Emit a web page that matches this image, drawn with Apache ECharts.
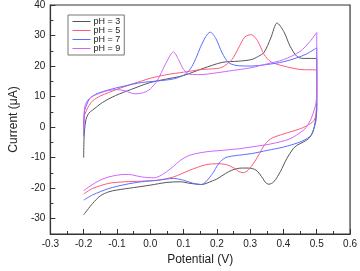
<!DOCTYPE html>
<html><head><meta charset="utf-8">
<script src="https://cdn.jsdelivr.net/npm/echarts@6/dist/echarts.min.js"></script>
<style>html,body{margin:0;padding:0;background:#fff}#c{width:360px;height:271px}</style>
</head><body><div id="c"></div>
<script>
const seriesNames = ['pH = 3', 'pH = 5', 'pH = 7', 'pH = 9'];
const xTicks = [-0.3, -0.2, -0.1, 0.0, 0.1, 0.2, 0.3, 0.4, 0.5, 0.6];
const yTicks = [-30, -20, -10, 0, 10, 20, 30, 40];
const yMinorTicks = [-35, -25, -15, -5, 5, 15, 25, 35];

// potential (V), current (uA): forward scan then reverse scan
const ph3 = [[-0.2,-10],[-0.199,-4],[-0.197,-0.6],[-0.193,2.5],[-0.185,4.5],[-0.173,5.6],[-0.143,8.1],[-0.105,10.3],[-0.056,12.4],[0.0,14.6],[0.07,16.2],[0.1,16.9],[0.158,19.2],[0.216,21.2],[0.265,21.6],[0.303,22.1],[0.325,23.2],[0.342,24.5],[0.362,29.2],[0.381,34.1],[0.401,31.3],[0.42,26.5],[0.44,23.2],[0.459,22.5],[0.5,22.5],
  [0.5,6],[0.497,2.7],[0.488,-1.7],[0.475,-3.8],[0.459,-4.9],[0.44,-6],[0.429,-7.1],[0.41,-10.3],[0.391,-14.5],[0.371,-17.9],[0.356,-18.7],[0.345,-18],[0.338,-16.8],[0.318,-14.1],[0.294,-13.4],[0.274,-13.4],[0.245,-14.1],[0.226,-15.2],[0.2,-17],[0.187,-17.6],[0.153,-18.8],[0.119,-18.4],[0.09,-17.9],[0.05,-18.1],[0.0,-19],[-0.05,-19.8],[-0.1,-20.6],[-0.125,-21.2],[-0.15,-22.5],[-0.173,-25],[-0.2,-28.7]];
const ph5 = [[-0.2,0],[-0.199,3],[-0.195,4.6],[-0.187,6.5],[-0.173,8.6],[-0.15,10.2],[-0.125,11.3],[-0.1,12.4],[-0.076,13.3],[-0.05,14.3],[-0.026,15.1],[0.0,16],[0.05,17.2],[0.1,18],[0.15,18.8],[0.2,19.2],[0.216,19.6],[0.245,22.1],[0.265,25.9],[0.284,29.5],[0.303,30.3],[0.323,28.1],[0.342,23.8],[0.362,21.4],[0.401,20],[0.449,18.9],[0.5,18.6],
  [0.5,9],[0.498,5],[0.492,2.2],[0.469,0.4],[0.449,-0.6],[0.401,-2.2],[0.362,-3.8],[0.342,-6],[0.328,-8.7],[0.313,-11.4],[0.294,-14.1],[0.279,-14.9],[0.265,-14.5],[0.255,-13.6],[0.226,-12.2],[0.2,-12],[0.167,-12.3],[0.119,-14.1],[0.07,-16.3],[0.022,-17.4],[-0.027,-17.7],[-0.076,-17.9],[-0.124,-18.4],[-0.173,-20.1],[-0.2,-21.9]];
const ph7 = [[-0.2,-3],[-0.199,2],[-0.197,5.5],[-0.19,7.5],[-0.183,9.2],[-0.163,10.8],[-0.125,12.2],[-0.076,13.5],[-0.026,14.6],[0.02,15.1],[0.07,15.8],[0.1,17],[0.12,19],[0.137,22.5],[0.15,26],[0.167,29.7],[0.18,31.1],[0.197,29],[0.216,24.3],[0.236,21.1],[0.265,20.1],[0.3,20],[0.35,20.5],[0.4,21.4],[0.44,22.7],[0.47,24],[0.5,26],
  [0.5,6],[0.497,1.7],[0.488,-1.5],[0.478,-3.2],[0.449,-4.9],[0.401,-6.5],[0.352,-7.6],[0.303,-8.7],[0.265,-9.2],[0.226,-10],[0.206,-11.9],[0.187,-15.2],[0.167,-17.9],[0.153,-18.8],[0.129,-18.4],[0.1,-17.4],[0.07,-16.8],[0.022,-17.4],[-0.027,-17.9],[-0.076,-18.8],[-0.124,-20.1],[-0.173,-22.2],[-0.2,-23.9]];
const ph9 = [[-0.2,-2],[-0.199,3],[-0.197,6.5],[-0.19,8.5],[-0.175,10],[-0.15,11.2],[-0.125,12],[-0.1,12.3],[-0.076,11.9],[-0.046,10.9],[-0.02,11.3],[0.0,12.5],[0.022,15.4],[0.045,20.5],[0.07,24.6],[0.085,22.1],[0.1,18.9],[0.119,17.3],[0.15,17.2],[0.2,17.8],[0.25,18.6],[0.3,19.4],[0.35,20.7],[0.4,22.1],[0.45,24.8],[0.48,28.1],[0.5,31],
  [0.5,12],[0.498,8],[0.493,5.9],[0.483,2.7],[0.469,0],[0.459,-1.1],[0.42,-3.8],[0.362,-5.5],[0.303,-6.5],[0.265,-7.1],[0.216,-7.6],[0.167,-8.1],[0.119,-9.2],[0.09,-10.9],[0.07,-12.8],[0.041,-15.2],[0.012,-16.6],[-0.027,-16.3],[-0.056,-15.6],[-0.076,-15.5],[-0.124,-16.3],[-0.16,-17.9],[-0.2,-20.8]];

const colors = ['#555555', '#ff5a78', '#5a6eff', '#cc66ff'];
const datasets = [ph3, ph5, ph7, ph9];

const chart = echarts.init(document.getElementById('c'), null, {renderer: 'canvas'});
const font = 'Liberation Sans, Arial, sans-serif';
chart.setOption({
  animation: false,
  textStyle: {fontFamily: font},
  grid: {left: 43, right: 8, top: 5, bottom: 35, show: true, borderColor: '#333', borderWidth: 1.2, backgroundColor: 'transparent'},
  legend: {
    orient: 'vertical', left: 68, top: 15, itemWidth: 18, itemHeight: 10, itemGap: 0,
    padding: [2, 4, 2, 4], borderColor: '#777', borderWidth: 1, backgroundColor: '#fff',
    itemStyle: {opacity: 0},
    textStyle: {fontSize: 9, color: '#222', padding: [0, 0, 0, -2]},
    data: seriesNames.map((n, i) => ({name: n, lineStyle: {color: colors[i], width: 1}}))
  },
  xAxis: {
    type: 'value', min: -0.3, max: 0.6, interval: 0.1,
    name: 'Potential (V)', nameLocation: 'middle', nameGap: 20,
    nameTextStyle: {fontSize: 12, color: '#222', fontFamily: font},
    axisLine: {show: true, onZero: false, lineStyle: {color: '#333', width: 1.2}},
    axisTick: {show: true, inside: true, length: 5, lineStyle: {color: '#333'}},
    minorTick: {show: true, splitNumber: 2, length: 3, lineStyle: {color: '#333'}},
    splitLine: {show: false},
    axisLabel: {fontSize: 10, color: '#222', margin: 5, formatter: v => (Math.abs(v) < 1e-9 ? 0 : v).toFixed(1)}
  },
  yAxis: [{
    type: 'value', min: -35, max: 40,
    name: 'Current (\u03bcA)', nameLocation: 'middle', nameGap: 28,
    nameTextStyle: {fontSize: 12, color: '#222', fontFamily: font},
    axisLine: {show: true, onZero: false, lineStyle: {color: '#333', width: 1.2}},
    axisTick: {show: true, inside: true, length: 5, customValues: yTicks, lineStyle: {color: '#333'}},
    splitLine: {show: false},
    axisLabel: {fontSize: 10, color: '#222', margin: 5, customValues: yTicks}
  }, {
    type: 'value', min: -35, max: 40, position: 'left',
    axisLine: {show: false, onZero: false},
    axisTick: {show: true, inside: true, length: 3, customValues: yMinorTicks, lineStyle: {color: '#333'}},
    axisLabel: {show: false}, splitLine: {show: false}
  }],
  series: datasets.map((d, i) => ({
    name: seriesNames[i], type: 'line', data: d, symbol: 'none', smooth: 0.3,
    yAxisIndex: 0,
    lineStyle: {width: 1, color: colors[i]}, itemStyle: {color: colors[i]}
  }))
});
</script></body></html>
